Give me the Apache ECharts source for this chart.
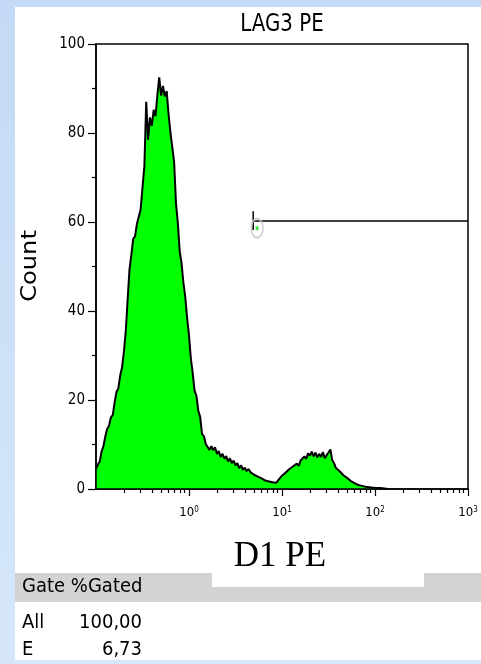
<!DOCTYPE html>
<html><head><meta charset="utf-8">
<script src="https://cdn.jsdelivr.net/npm/echarts@6/dist/echarts.min.js"></script>
<style>
html,body{margin:0;padding:0;width:481px;height:664px;overflow:hidden;background:linear-gradient(#c3d9f5,#d6e7fa);}
#panel{position:absolute;left:15px;top:7px;width:466px;height:653px;background:#fff;}
#chart{position:absolute;left:0;top:0;width:481px;height:664px;}
</style>
</head><body><div id="panel"></div><div id="chart"></div>
<script>
const titleText = 'LAG3 PE';
const xName = 'D1 PE';
const yName = 'Count';
const xDecades = [0, 1, 2, 3];          // labelled ticks: 10^n
const xMinorFactors = [2, 3, 4, 5, 6, 7, 8, 9];
const yTicks = [0, 20, 40, 60, 80, 100];
const channelStartLog = -1;             // first channel at 10^-1
const channelStepLog = 0.02;            // channel width in decades
const counts = [
  4.5,5.5,6.2,8.4,9.6,11.8,13.5,14.2,16.1,16.6,
  19.4,21.8,22.6,25.5,27.3,30.8,35.5,42.5,49.3,52.6,
  56.2,56.8,59.6,61.2,62.8,67.8,72.5,87,78.5,83.5,
  81.6,85.2,83.8,88.6,92.5,88.4,90.6,88.2,89.4,84.3,
  80.2,76.8,73.5,64.2,59.8,53.4,50.7,46.3,43.1,38.4,
  34.5,29.3,26.0,22.1,20.9,17.6,16.2,12.4,11.9,10.1,
  10.3,8.8,9.6,8.7,9.4,7.9,8.5,7.2,7.9,6.8,
  7.4,6.2,6.9,5.8,6.4,5.3,5.8,4.7,5.3,4.3,
  4.8,4.0,4.5,3.8,4.1,3.2,3.6,2.8,3.2,2.4,
  2.7,1.9,2.3,1.7,2.1,1.5,1.9,1.4,2.0,1.9,
  3.0,2.7,3.7,3.5,4.5,4.1,5.1,4.8,5.7,5.2,
  6.4,6.1,7.3,6.8,8.0,7.5,8.4,7.3,8.2,7.1,
  7.9,7.2,8.3,6.9,7.6,8.2,8.9,6.5,5.8,4.7,
  4.9,4.0,4.0,3.1,3.2,2.5,2.4,1.8,1.8,1.3,
  1.4,0.9,1.0,0.7,0.8,0.5,0.6,0.4,0.5,0.3,
  0.4,0.2,0.3,0.2,0.2,0.1,0.1,0
];
const gateName = 'E';
const gateRange = [4.9, 1000];
const gateLevel = 60.2;
const gateBar = [62.4, 58.2];
const gateMarker = [5.4, 58.6];
const tableHeader = 'Gate %Gated';
const tableGates = ['All', 'E'];
const tablePercent = ['100,00', '6,73'];

const histData = counts.map((c, i) => [channelStartLog + channelStepLog * i, c]);
const minorTicks = [];
[-1, 0, 1, 2].forEach(d => xMinorFactors.forEach(k => minorTicks.push(d + Math.log10(k))));
const gx0 = Math.log10(gateRange[0]), gx1 = Math.log10(gateRange[1]);

const FONT = 'DejaVu Sans Condensed';
const chart = echarts.init(document.getElementById('chart'));
chart.setOption({
  animation: false,
  grid: { left: 96, top: 44, width: 372, height: 445, show: true, borderColor: '#000', borderWidth: 1.5, backgroundColor: 'transparent' },
  xAxis: [{
    type: 'value', min: -1, max: 3, position: 'bottom', z: 10,
    axisLine: { show: true, onZero: false, lineStyle: { color: '#000', width: 1.5 } },
    axisTick: { show: true, length: 7, customValues: xDecades, lineStyle: { color: '#000', width: 1.2 } },
    axisLabel: { show: true, margin: 17, customValues: xDecades,
      formatter: v => '{b|10}{s|' + v + '}',
      rich: { b: { fontFamily: FONT, fontSize: 13, color: '#000' },
              s: { fontFamily: FONT, fontSize: 8, color: '#000', verticalAlign: 'top', padding: [0, 0, 4, 0] } } },
    splitLine: { show: false }
  }, {
    type: 'value', min: -1, max: 3, position: 'bottom', z: 10,
    axisLine: { show: false, onZero: false },
    axisTick: { show: true, length: 4, customValues: minorTicks, lineStyle: { color: '#000', width: 1.2 } },
    axisLabel: { show: false }, splitLine: { show: false }
  }],
  yAxis: {
    type: 'value', min: 0, max: 100, interval: 20, z: 10,
    axisLine: { show: true, onZero: false, lineStyle: { color: '#000', width: 1.5 } },
    axisTick: { show: true, length: 8, lineStyle: { color: '#000', width: 1.2 } },
    minorTick: { show: true, splitNumber: 2, length: 4, lineStyle: { color: '#000', width: 1.2 } },
    axisLabel: { margin: 11, fontFamily: FONT, fontSize: 15, color: '#000',
      customValues: yTicks },
    splitLine: { show: false }
  },
  series: [{
    type: 'line', data: histData, symbol: 'none', z: 3,
    lineStyle: { color: '#000', width: 2 },
    areaStyle: { color: '#00ff00', opacity: 1 }
  }, {
    type: 'line', data: [[gx0, gateLevel], [gx1, gateLevel]], symbol: 'none', z: 4,
    lineStyle: { color: '#000', width: 1.5 }
  }, {
    type: 'line', data: [[gx0, gateBar[0]], [gx0, gateBar[1]]], symbol: 'none', z: 4,
    lineStyle: { color: '#000', width: 1.5 }
  }, {
    type: 'scatter', data: [[Math.log10(gateMarker[0]), gateMarker[1]]], z: 5,
    symbol: 'circle', symbolSize: [12, 19],
    itemStyle: { color: 'rgba(255,255,255,0)', borderColor: '#c8c8c8', borderWidth: 2 }
  }, {
    type: 'scatter', data: [[Math.log10(gateMarker[0]), gateMarker[1]]], z: 6,
    symbol: 'rect', symbolSize: [3, 4], itemStyle: { color: '#22dd22' }
  }],
  graphic: [
    { type: 'text', x: 282, y: 25, scaleY: 1.1, style: { text: titleText, x: 0, y: 0, align: 'center', verticalAlign: 'middle', font: '22px "' + FONT + '"', fill: '#000' } },
    { type: 'text', x: 30, y: 266, rotation: Math.PI / 2, scaleX: 1.22, style: { text: yName, x: 0, y: 0, align: 'center', verticalAlign: 'middle', font: '22px "' + FONT + '"', fill: '#000' } },
    { type: 'rect', shape: { x: 15, y: 573, width: 466, height: 29 }, style: { fill: '#d3d3d3' } },
    { type: 'rect', shape: { x: 212, y: 530, width: 212, height: 57 }, style: { fill: '#fff' } },
    { type: 'text', style: { text: xName, x: 280, y: 557, align: 'center', verticalAlign: 'middle', font: '35px "Liberation Serif"', fill: '#000' } },
    { type: 'text', style: { text: tableHeader, x: 22, y: 587, verticalAlign: 'middle', font: '20px "' + FONT + '"', fill: '#000' } },
    { type: 'text', style: { text: tableGates[0], x: 22, y: 623, verticalAlign: 'middle', font: '20px "' + FONT + '"', fill: '#000' } },
    { type: 'text', style: { text: tablePercent[0], x: 142, y: 623, align: 'right', verticalAlign: 'middle', font: '20px "' + FONT + '"', fill: '#000' } },
    { type: 'text', style: { text: tableGates[1], x: 22, y: 650, verticalAlign: 'middle', font: '20px "' + FONT + '"', fill: '#000' } },
    { type: 'text', style: { text: tablePercent[1], x: 142, y: 650, align: 'right', verticalAlign: 'middle', font: '20px "' + FONT + '"', fill: '#000' } }
  ]
});
</script></body></html>
